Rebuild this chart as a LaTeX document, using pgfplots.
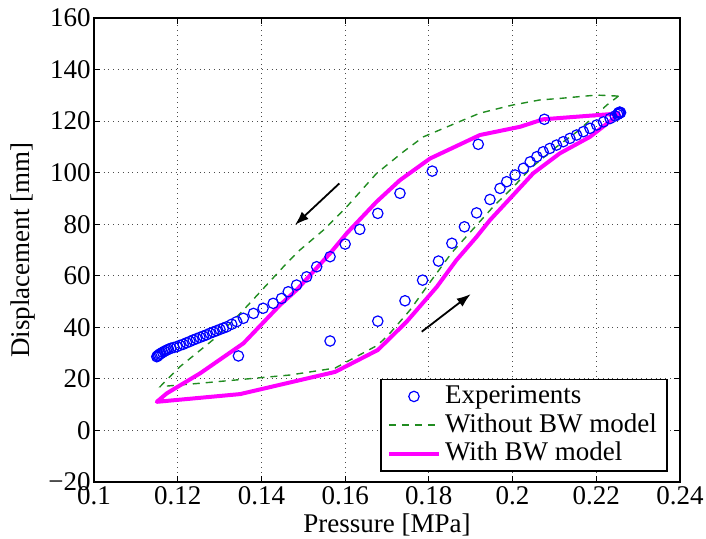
\documentclass[border=0pt]{standalone}
\usepackage{pgfplots}
\pgfplotsset{compat=1.18}
\usepackage{fontspec}
\setmainfont{Liberation Serif}
\usetikzlibrary{arrows.meta}
\definecolor{mgreen}{rgb}{0.13,0.55,0.13}
\definecolor{mmag}{rgb}{1,0,1}
\definecolor{mblue}{rgb}{0,0,1}
\newcommand{\ff}{\fontsize{13.5}{15}\selectfont}
\pgfplotsset{
  mylinelegend/.style={legend image code/.code={\draw[##1] (0cm,0cm) -- (0.88cm,0cm);}},
  mymarklegend/.style={legend image code/.code={\draw[mark repeat=2,mark phase=2,##1] plot coordinates {(0cm,0cm) (0.44cm,0cm) (0.88cm,0cm)};}},
}
\begin{document}
\ff
\begin{tikzpicture}
\begin{axis}[
  name=ax,
  at={(0,0)}, anchor=south west,
  scale only axis,
  width=293pt, height=232pt,
  xmin=0.1, xmax=0.24, ymin=-20, ymax=160,
  xtick={0.1,0.12,0.14,0.16,0.18,0.2,0.22,0.24},
  xticklabels={0.1,0.12,0.14,0.16,0.18,0.2,0.22,0.24},
  ytick={-20,0,20,40,60,80,100,120,140,160},
  yticklabels={−20,0,20,40,60,80,100,120,140,160},
  tick label style={font=\ff},
  xticklabel style={inner sep=1pt, yshift=-1pt},
  yticklabel style={inner sep=1.5pt},
  label style={font=\ff},
  xlabel={Pressure [MPa]},
  ylabel={Displacement [mm]},
  xlabel style={yshift=1pt},
  ylabel style={yshift=0.5pt},
  grid=major,
  grid style={dotted, line width=0.5pt, black!70},
  tick align=inside,
  major tick length=3pt,
  tick style={black, line width=0.5pt},
  axis line style={line width=0.8pt},
  legend style={at={(rel axis cs:0.979,0.022)}, anchor=south east, draw=black, line width=0.8pt,
    font=\ff, inner xsep=3pt, inner ysep=1pt, row sep=-1pt},
  legend cell align=left,
]
% Experiments
\addplot[only marks, mark=o, mblue, mark size=2.6pt, mark options={line width=0.6pt}, mymarklegend]
coordinates {
(0.1150,28.6) (0.1152,28.9) (0.1154,29.2) (0.1157,29.6) (0.1160,29.9) (0.1164,30.3)
(0.1168,30.7) (0.1173,31.1) (0.1178,31.5) (0.1184,31.9) (0.1191,32.2) (0.1198,32.5)
(0.1205,33.0) (0.1213,33.4) (0.1221,34.0) (0.1229,34.5) (0.1237,35.1) (0.1245,35.6)
(0.1253,36.1) (0.1261,36.6) (0.1269,37.1) (0.1277,37.7) (0.1285,38.2) (0.1293,38.7)
(0.1301,39.2) (0.1309,39.7) (0.1317,40.2) (0.1329,41.2) (0.1341,42.2) (0.1357,43.5)
(0.1381,45.4) (0.1404,47.4) (0.1428,49.3) (0.1448,51.2) (0.1464,53.8) (0.1484,56.4)
(0.1508,59.6) (0.1532,63.5) (0.1564,67.4) (0.1600,72.3) (0.1635,78.0) (0.1678,84.2)
(0.1731,92.0) (0.1808,100.6) (0.1918,111.0) (0.2076,120.7)
(0.1345,28.9) (0.1564,34.7) (0.1678,42.4) (0.1743,50.3) (0.1785,58.3) (0.1823,65.7)
(0.1855,72.6) (0.1885,79.0) (0.1914,84.4) (0.1946,89.6) (0.1970,93.9) (0.1986,96.5)
(0.2006,99.1) (0.2026,101.7) (0.2042,104.2) (0.2058,106.2) (0.2073,108.1) (0.2089,109.4)
(0.2105,110.7) (0.2121,112.0) (0.2137,113.3) (0.2153,114.6) (0.2169,115.9) (0.2185,117.2)
(0.2201,118.5) (0.2217,119.7) (0.2233,121.0) (0.2245,122.0) (0.2251,122.6) (0.2255,123.0)
(0.2258,123.3) (0.2256,123.5) (0.2253,123.2)
};
\addlegendentry{Experiments}
% Without BW model
\addplot[mgreen, line width=0.7pt, dash pattern=on 3.5pt off 3pt, mylinelegend]
coordinates {
(0.2253,129.7) (0.2201,130.1) (0.2113,128.8) (0.2065,128.2) (0.1999,126.2) (0.1922,123.1)
(0.1882,120.4) (0.1787,113.9) (0.1739,108.1) (0.1675,99.7) (0.1604,86.8) (0.1548,77.7)
(0.1492,70.0) (0.1460,64.8) (0.1357,46.7) (0.1293,36.3) (0.1205,24.7) (0.1158,17.0)
(0.1253,18.3) (0.1468,21.5) (0.1576,24.2) (0.1678,33.1) (0.1707,37.7) (0.1755,46.7)
(0.1805,58.0) (0.1855,69.0) (0.1905,78.0) (0.1955,87.0) (0.2005,95.0) (0.2045,102.0)
(0.2105,110.0) (0.2155,116.0) (0.2225,126.2) (0.2253,129.7)
};
\addlegendentry{Without BW model}
% With BW model
\addplot[mmag, line width=2pt, line join=round, mylinelegend]
coordinates {
(0.2257,123.0) (0.2073,120.7) (0.2018,117.8) (0.1922,114.6) (0.1803,105.5) (0.1731,97.1)
(0.1675,88.7) (0.1604,76.5) (0.1564,68.7) (0.1484,54.5) (0.1444,48.6) (0.1357,33.8)
(0.1253,22.1) (0.1174,14.4) (0.1150,11.1)
(0.1349,14.1) (0.1576,22.7) (0.1678,31.2) (0.1747,42.2) (0.1819,55.7) (0.1866,66.1)
(0.1914,75.1) (0.1946,81.6) (0.1994,90.0) (0.2049,99.7) (0.2113,107.5) (0.2185,113.9)
(0.2257,123.0)
};
\addlegendentry{With BW model}
\draw[black, line width=0.9pt, -{Latex[length=7pt,width=5pt]}] (axis cs:0.1586,95.8) -- (axis cs:0.1480,79.7);
\draw[black, line width=0.9pt, -{Latex[length=7pt,width=5pt]}] (axis cs:0.1783,38.3) -- (axis cs:0.1900,52.9);
\end{axis}
\pgfresetboundingbox
\path (ax.south west) ++(-47pt,-28.5pt) coordinate (bl);
\path (ax.north east) ++(13pt,9pt) coordinate (tr);
\useasboundingbox (bl) rectangle (tr);
\end{tikzpicture}
\end{document}
